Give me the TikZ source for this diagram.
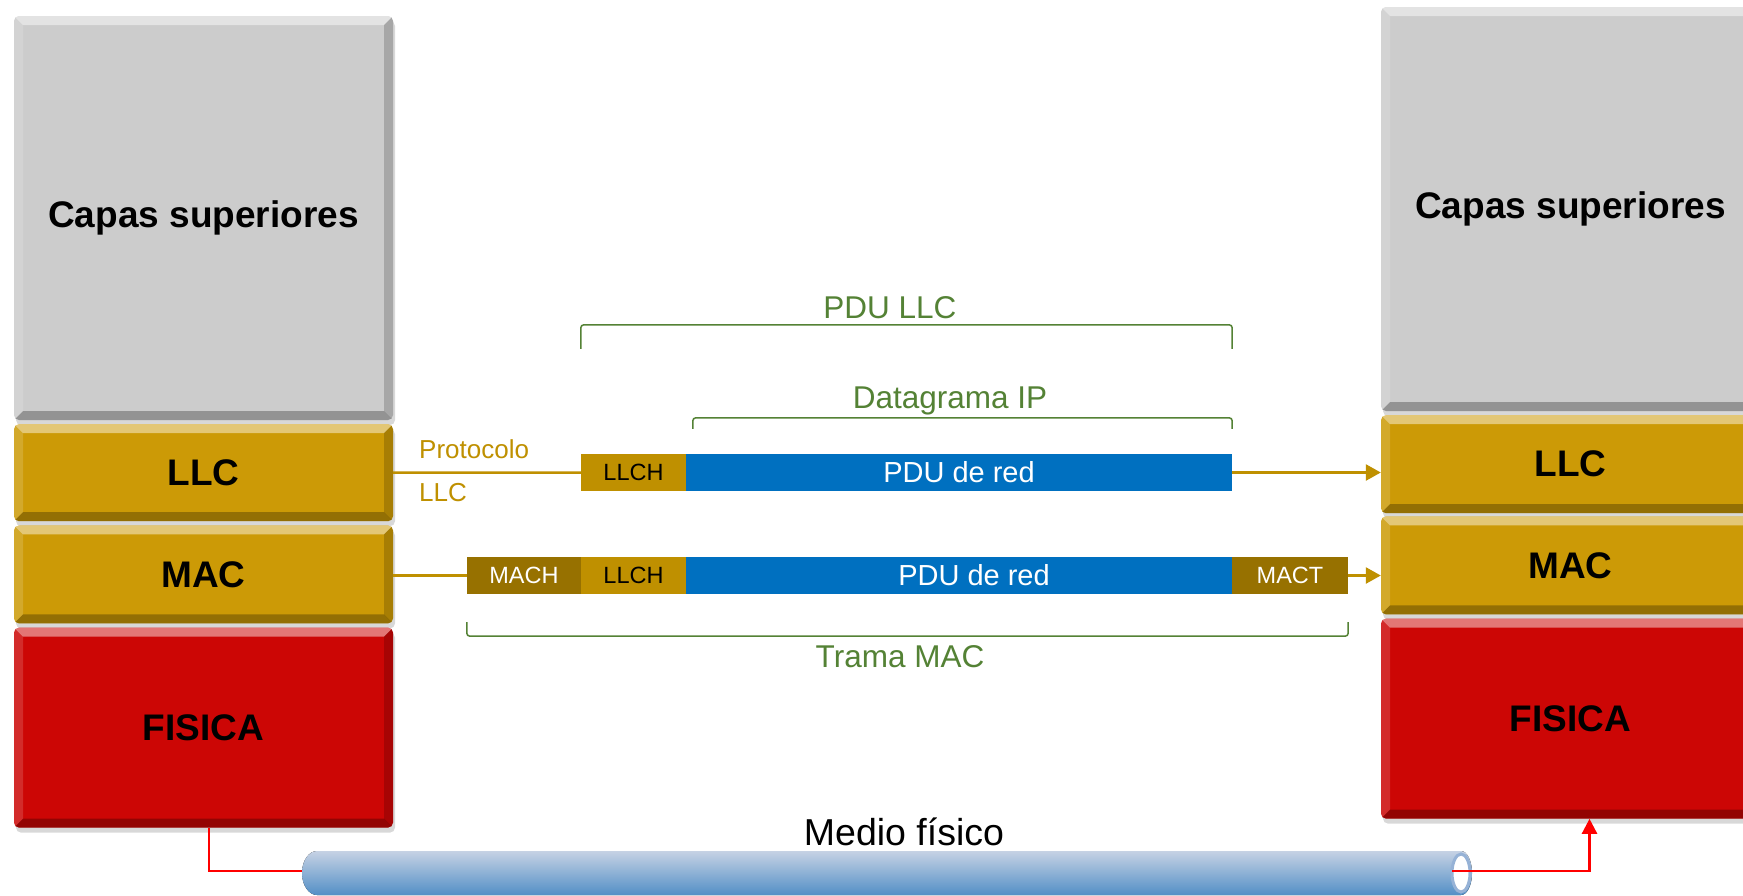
\documentclass[tikz,border=0pt]{standalone}
\usepackage{fontspec}
\setmainfont{Liberation Sans}
\usepackage{tikz}
\usetikzlibrary{calc,shadows,arrows.meta}

\definecolor{capaGris}{RGB}{204,204,204}
\definecolor{capaOro}{RGB}{204,154,6}
\definecolor{capaRoja}{RGB}{204,6,5}
\definecolor{oroClaro}{RGB}{191,144,0}
\definecolor{oroOscuro}{RGB}{151,113,0}
\definecolor{azulPdu}{RGB}{0,112,192}
\definecolor{verdeEtq}{RGB}{84,130,53}
\definecolor{tuboArriba}{RGB}{198,210,228}
\definecolor{tuboAbajo}{RGB}{83,143,198}
\definecolor{tuboBorde}{RGB}{150,178,214}

\begin{document}
\begin{tikzpicture}[x=1pt, y=-1pt,
    capa/.style={rectangle, rounded corners=5pt, minimum width=379pt, inner sep=0pt,
        font=\fontsize{37}{40}\selectfont\bfseries,
        drop shadow={shadow xshift=2pt, shadow yshift=-5pt, opacity=.3},
        path picture={
            \fill[sharp corners, white, opacity=.45] (path picture bounding box.north west) -- (path picture bounding box.north east) -- ([shift={(-9pt,-9pt)}]path picture bounding box.north east) -- ([shift={(9pt,-9pt)}]path picture bounding box.north west) -- cycle;
            \fill[sharp corners, black, opacity=.28] (path picture bounding box.south west) -- (path picture bounding box.south east) -- ([shift={(-9pt,9pt)}]path picture bounding box.south east) -- ([shift={(9pt,9pt)}]path picture bounding box.south west) -- cycle;
            \fill[sharp corners, black, opacity=.18] (path picture bounding box.north east) -- (path picture bounding box.south east) -- ([shift={(-9pt,9pt)}]path picture bounding box.south east) -- ([shift={(-9pt,-9pt)}]path picture bounding box.north east) -- cycle;
            \fill[sharp corners, white, opacity=.15] (path picture bounding box.north west) -- (path picture bounding box.south west) -- ([shift={(9pt,9pt)}]path picture bounding box.south west) -- ([shift={(9pt,-9pt)}]path picture bounding box.north west) -- cycle;
        }},
    campo/.style={rectangle, inner sep=0pt, minimum height=37pt, font=\fontsize{23.5}{25}\selectfont},
    pdu/.style={campo, fill=azulPdu, minimum width=546pt, text=white, font=\fontsize{29}{31}\selectfont},
    etiqueta/.style={text=oroClaro, inner sep=0pt, font=\fontsize{26}{28}\selectfont},
    verdeTxt/.style={text=verdeEtq, inner sep=0pt, font=\fontsize{31.5}{33}\selectfont},
    llave/.style={draw=verdeEtq, line width=1.5pt, rounded corners=3pt},
    lineaOro/.style={draw=oroClaro, line width=2.5pt},
    lineaRoja/.style={draw=red, line width=2.5pt}]

    \path[use as bounding box, fill=white] (0,0) rectangle (1743,895);
    \clip (0,0) rectangle (1743,895);

    \node[capa, fill=capaGris, minimum height=404pt] (capasI) at (203.5,218) {Capas superiores};

    \node[capa, fill=capaOro, minimum height=97pt] (llcI) at ($(capasI.south) + (0,52.5)$) {LLC};

    \node[capa, fill=capaOro, minimum height=98pt] (macI) at ($(llcI.south) + (0,53)$) {MAC};

    \node[capa, fill=capaRoja, minimum height=200pt] (fisI) at ($(macI.south) + (0,104)$) {FISICA};

    \node[capa, fill=capaGris, minimum height=404pt] (capasD) at (1570.5,209) {Capas superiores};

    \node[capa, fill=capaOro, minimum height=98pt] (llcD) at ($(capasD.south) + (0,53)$) {LLC};

    \node[capa, fill=capaOro, minimum height=98pt] (macD) at ($(llcD.south) + (0,52)$) {MAC};

    \node[capa, fill=capaRoja, minimum height=200pt] (fisD) at ($(macD.south) + (0,104)$) {FISICA};

    \node[campo, fill=oroClaro, minimum width=105pt] (llch1) at (633.5,472.5) {LLCH};

    \node[pdu] (pdu1) at ($(llch1) + (325.5,0)$) {PDU de red};

    \node[campo, fill=oroOscuro, minimum width=114pt, text=white] (mach) at (524,575.5) {MACH};

    \node[campo, fill=oroClaro, minimum width=105pt] (llch2) at ($(mach) + (109.5,0)$) {LLCH};

    \node[pdu] (pdu2) at ($(llch2) + (325.5,0)$) {\hspace*{30pt}PDU de red};

    \node[campo, fill=oroOscuro, minimum width=116pt, text=white] (mact) at ($(pdu2) + (331,0)$) {MACT};

    \node[etiqueta, anchor=base west] (protTxt) at (419,458) {Protocolo};

    \node[etiqueta, anchor=base west] (llcTxt) at (419,501) {LLC};

    \node[verdeTxt, anchor=base] (pduLlcTxt) at (890,318) {PDU LLC};

    \node[verdeTxt, anchor=base] (datTxt) at (950,408) {Datagrama IP};

    \node[verdeTxt, anchor=base] (tramaTxt) at (900,667) {Trama MAC};

    \node[anchor=base, inner sep=0pt, font=\fontsize{37.5}{40}\selectfont] (medioTxt) at (904,845) {Medio físico};

    \draw[llave] ($(llch1.north west) + (0,-105)$) |- ($(pdu1.north east) + (0,-129)$) -- ++(0,24);
    \draw[llave] ($(pdu1.north west) + (7,-25)$) |- ($(pdu1.north east) + (0,-36)$) -- ++(0,11);
    \draw[llave] ($(mach.south west) + (0,28)$) |- ($(mact.south east) + (0,42)$) -- ++(0,-14);

    \draw[lineaOro] (llcI.east) -- (llch1.west);
    \draw[lineaOro, -{Triangle[length=15pt, width=16pt]}] (pdu1.east) -- (pdu1.east -| llcD.west);
    \draw[lineaOro] (mach.west -| macI.east) -- (mach.west);
    \draw[lineaOro, -{Triangle[length=15pt, width=16pt]}] (mact.east) -- (mact.east -| macD.west);

    \fill[top color=tuboArriba, bottom color=tuboAbajo] (317,851) arc[start angle=-90, end angle=-270, x radius=15, y radius=22] -- (1461,895) arc[start angle=90, end angle=-90, x radius=11, y radius=22] -- cycle;
    \draw[draw=tuboBorde, line width=3pt, fill=white] (1461,873) ellipse [x radius=9, y radius=19];

    \coordinate (tuboIzq) at (302,871);
    \coordinate (tuboDer) at (1452,871);

    \draw[lineaRoja] ($(fisI.south) + (5.5,0)$) |- (tuboIzq);
    \draw[lineaRoja, -{Triangle[length=15pt, width=15pt]}] (tuboDer) -| ($(fisD.south) + (19,0)$);

\end{tikzpicture}
\end{document}
